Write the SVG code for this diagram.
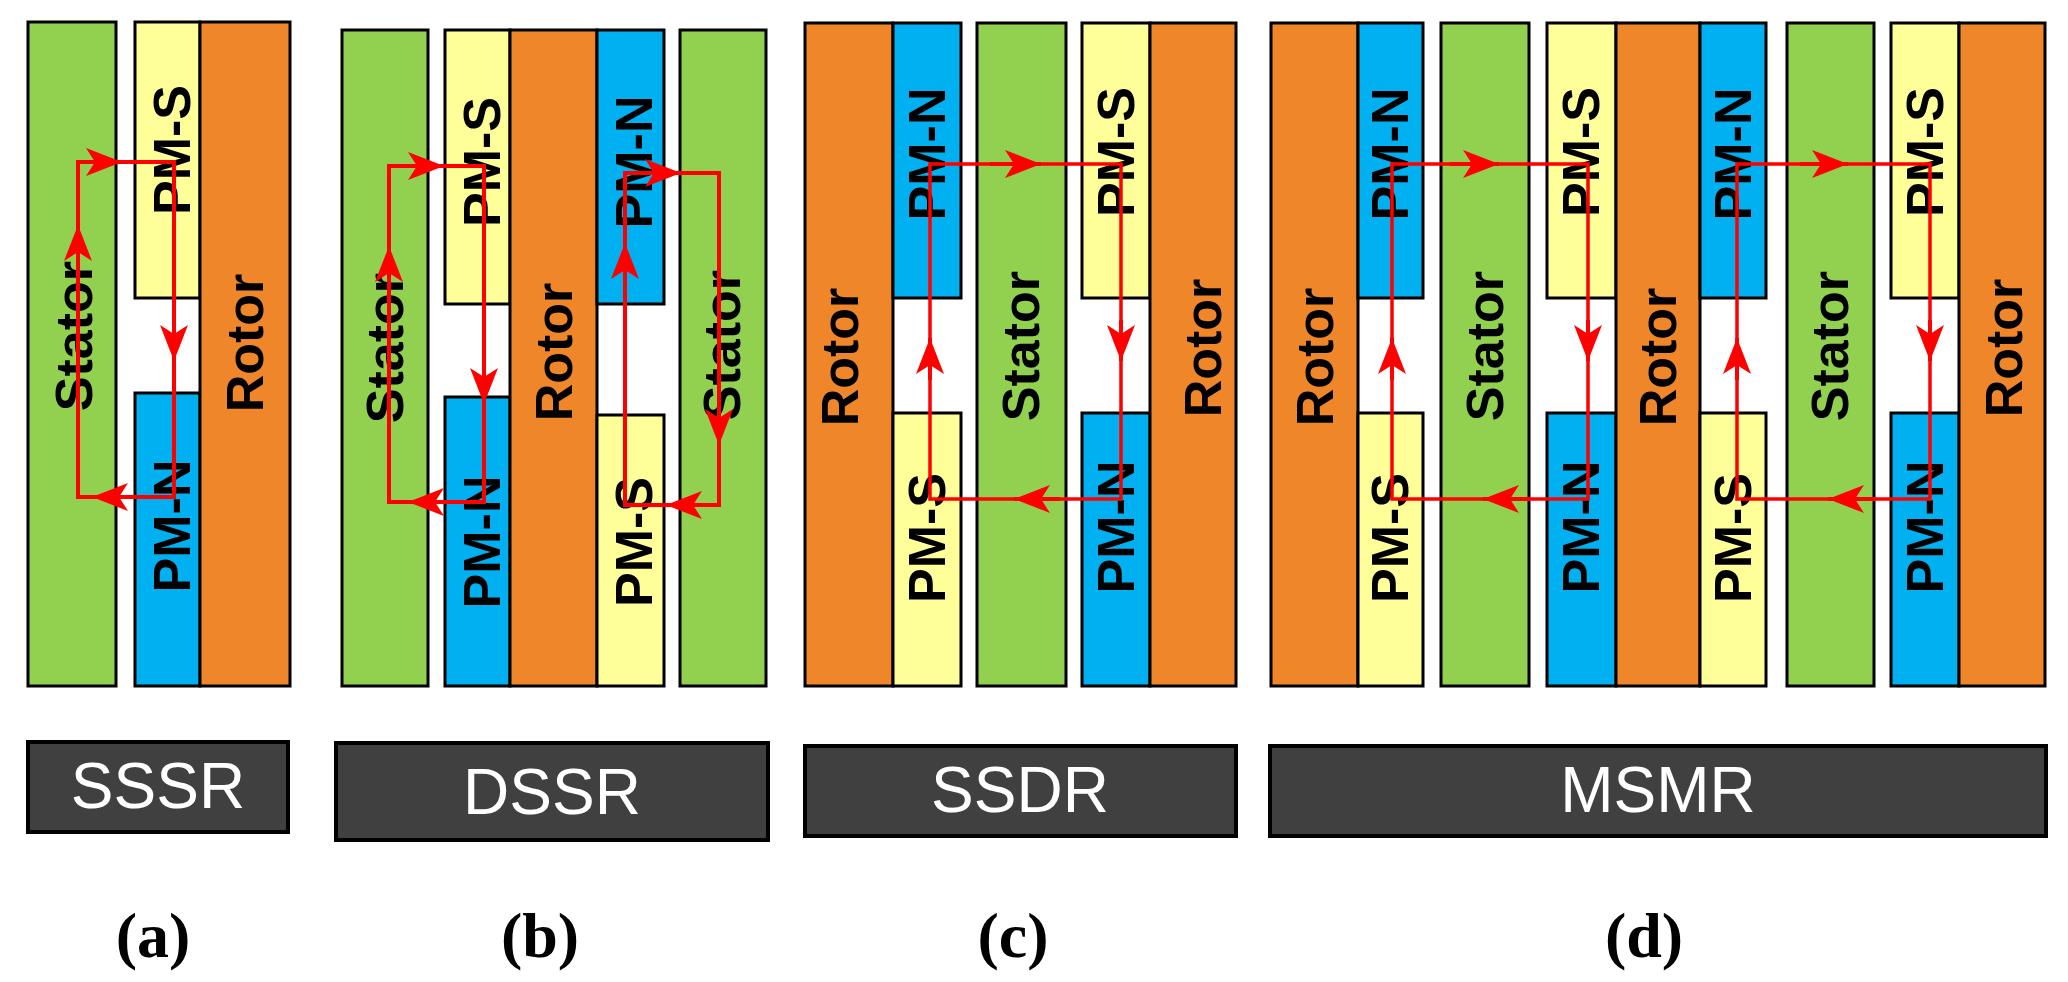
<svg xmlns="http://www.w3.org/2000/svg" width="2068" height="982" viewBox="0 0 2068 982">
<style>
.blk{stroke:#000;stroke-width:3}
.g{fill:#92D050}.y{fill:#FFFF99}.b{fill:#00B0F0}.o{fill:#F0862A}
.bar{fill:#404040;stroke:#000;stroke-width:4}
.t{font-family:"Liberation Sans",Arial,sans-serif;font-weight:bold;font-size:52px;text-anchor:middle;dominant-baseline:central;fill:#000}
.bt{font-family:"Liberation Sans",Arial,sans-serif;font-size:64px;text-anchor:middle;fill:#fff}
.cap{font-family:"Liberation Serif","Times New Roman",serif;font-size:64px;font-weight:bold;text-anchor:middle;fill:#000}
.p{fill:none;stroke:#f00;stroke-width:4}
.p2{fill:none;stroke:#f00;stroke-width:3.5}
.a{stroke:#f00;stroke-width:4;marker-end:url(#ah)}
</style>
<defs>
<marker id="ah" viewBox="0 0 36 28" refX="36" refY="14" markerWidth="36" markerHeight="28" markerUnits="userSpaceOnUse" orient="auto">
<path d="M0,0 L36,14 L0,28 L9,14 z" fill="#f00"/>
</marker>
</defs>
<rect width="2068" height="982" fill="#fff"/>

<g id="panel-a">
<g id="a-stator"><rect class="blk g" x="28" y="22" width="88" height="664"/><text class="t" x="74" y="336" transform="rotate(-90 74 336)">Stator</text></g>
<g id="a-pms"><rect class="blk y" x="135" y="22" width="65" height="276"/><text class="t" x="172" y="150" transform="rotate(-90 172 150)">PM-S</text></g>
<g id="a-pmn"><rect class="blk b" x="135" y="393" width="65" height="293"/><text class="t" x="172" y="526" transform="rotate(-90 172 526)">PM-N</text></g>
<g id="a-rotor"><rect class="blk o" x="200" y="22" width="90" height="664"/><text class="t" x="245" y="343" transform="rotate(-90 245 343)">Rotor</text></g>
</g>

<g id="panel-b">
<g id="b-stator1"><rect class="blk g" x="342" y="30" width="86" height="656"/><text class="t" x="385" y="348" transform="rotate(-90 385 348)">Stator</text></g>
<g id="b-pms"><rect class="blk y" x="445" y="30" width="65" height="274"/><text class="t" x="482" y="162" transform="rotate(-90 482 162)">PM-S</text></g>
<g id="b-pmn"><rect class="blk b" x="445" y="397" width="65" height="289"/><text class="t" x="482" y="542" transform="rotate(-90 482 542)">PM-N</text></g>
<g id="b-rotor"><rect class="blk o" x="510" y="30" width="87" height="656"/><text class="t" x="554" y="352" transform="rotate(-90 554 352)">Rotor</text></g>
<g id="b-pmn2"><rect class="blk b" x="597" y="30" width="67" height="274"/><text class="t" x="634" y="162" transform="rotate(-90 634 162)">PM-N</text></g>
<g id="b-pms2"><rect class="blk y" x="597" y="415" width="67" height="271"/><text class="t" x="634" y="542" transform="rotate(-90 634 542)">PM-S</text></g>
<g id="b-stator2"><rect class="blk g" x="680" y="30" width="86" height="656"/><text class="t" x="722" y="345" transform="rotate(-90 722 345)">Stator</text></g>
</g>

<g id="panel-c">
<g id="c-rotor1"><rect class="blk o" x="805" y="23" width="88" height="663"/><text class="t" x="840" y="357" transform="rotate(-90 840 357)">Rotor</text></g>
<g id="c-pmn"><rect class="blk b" x="893" y="23" width="68" height="275"/><text class="t" x="927" y="154" transform="rotate(-90 927 154)">PM-N</text></g>
<g id="c-pms"><rect class="blk y" x="893" y="413" width="68" height="273"/><text class="t" x="927" y="538" transform="rotate(-90 927 538)">PM-S</text></g>
<g id="c-stator"><rect class="blk g" x="977" y="23" width="89" height="663"/><text class="t" x="1021" y="346" transform="rotate(-90 1021 346)">Stator</text></g>
<g id="c-pms2"><rect class="blk y" x="1082" y="23" width="68" height="275"/><text class="t" x="1116" y="152" transform="rotate(-90 1116 152)">PM-S</text></g>
<g id="c-pmn2"><rect class="blk b" x="1082" y="413" width="68" height="273"/><text class="t" x="1116" y="527" transform="rotate(-90 1116 527)">PM-N</text></g>
<g id="c-rotor2"><rect class="blk o" x="1150" y="23" width="86" height="663"/><text class="t" x="1203" y="348" transform="rotate(-90 1203 348)">Rotor</text></g>
</g>

<g id="panel-d">
<g id="d-rotor1"><rect class="blk o" x="1271" y="23" width="87" height="663"/><text class="t" x="1315" y="357" transform="rotate(-90 1315 357)">Rotor</text></g>
<g id="d-pmn1"><rect class="blk b" x="1358" y="23" width="65" height="275"/><text class="t" x="1390" y="154" transform="rotate(-90 1390 154)">PM-N</text></g>
<g id="d-pms1"><rect class="blk y" x="1358" y="413" width="65" height="273"/><text class="t" x="1390" y="538" transform="rotate(-90 1390 538)">PM-S</text></g>
<g id="d-stator1"><rect class="blk g" x="1441" y="23" width="88" height="663"/><text class="t" x="1485" y="346" transform="rotate(-90 1485 346)">Stator</text></g>
<g id="d-pms2"><rect class="blk y" x="1547" y="23" width="69" height="275"/><text class="t" x="1581" y="152" transform="rotate(-90 1581 152)">PM-S</text></g>
<g id="d-pmn2"><rect class="blk b" x="1547" y="413" width="69" height="273"/><text class="t" x="1581" y="527" transform="rotate(-90 1581 527)">PM-N</text></g>
<g id="d-rotor2"><rect class="blk o" x="1616" y="23" width="84" height="663"/><text class="t" x="1658" y="357" transform="rotate(-90 1658 357)">Rotor</text></g>
<g id="d-pmn3"><rect class="blk b" x="1700" y="23" width="66" height="275"/><text class="t" x="1733" y="154" transform="rotate(-90 1733 154)">PM-N</text></g>
<g id="d-pms3"><rect class="blk y" x="1700" y="413" width="66" height="273"/><text class="t" x="1733" y="538" transform="rotate(-90 1733 538)">PM-S</text></g>
<g id="d-stator2"><rect class="blk g" x="1787" y="23" width="87" height="663"/><text class="t" x="1830" y="346" transform="rotate(-90 1830 346)">Stator</text></g>
<g id="d-pms4"><rect class="blk y" x="1891" y="23" width="68" height="275"/><text class="t" x="1925" y="152" transform="rotate(-90 1925 152)">PM-S</text></g>
<g id="d-pmn4"><rect class="blk b" x="1891" y="413" width="68" height="273"/><text class="t" x="1925" y="527" transform="rotate(-90 1925 527)">PM-N</text></g>
<g id="d-rotor3"><rect class="blk o" x="1959" y="23" width="86" height="663"/><text class="t" x="2004" y="348" transform="rotate(-90 2004 348)">Rotor</text></g>
</g>

<g id="connectors">
<path class="p" d="M78,497 V162 H174 V497 Z"/>
<line class="a" x1="78" y1="270" x2="78" y2="225"/>
<line class="a" x1="86" y1="162" x2="122" y2="162"/>
<line class="a" x1="174" y1="320" x2="174" y2="361"/>
<line class="a" x1="130" y1="497" x2="92" y2="497"/>

<path class="p" d="M389,502 V166 H484 V502 Z"/>
<line class="a" x1="389" y1="290" x2="389" y2="246"/>
<line class="a" x1="400" y1="166" x2="444" y2="166"/>
<line class="a" x1="484" y1="360" x2="484" y2="404"/>
<line class="a" x1="450" y1="502" x2="408" y2="502"/>

<path class="p" d="M625,505 V173 H719 V505 Z"/>
<line class="a" x1="625" y1="290" x2="625" y2="243"/>
<line class="a" x1="640" y1="173" x2="681" y2="173"/>
<line class="a" x1="719" y1="400" x2="719" y2="445"/>
<line class="a" x1="705" y1="505" x2="666" y2="505"/>

<path class="p2" d="M930,499 V164 H1121 V499 Z"/>
<line class="a" x1="990" y1="164" x2="1041" y2="164"/>
<line class="a" x1="1121" y1="320" x2="1121" y2="361"/>
<line class="a" x1="1060" y1="499" x2="1014" y2="499"/>
<line class="a" x1="930" y1="380" x2="930" y2="338"/>

<path class="p2" d="M1392,499 V164 H1588 V499 Z"/>
<line class="a" x1="1450" y1="164" x2="1499" y2="164"/>
<line class="a" x1="1588" y1="320" x2="1588" y2="361"/>
<line class="a" x1="1530" y1="499" x2="1483" y2="499"/>
<line class="a" x1="1392" y1="380" x2="1392" y2="338"/>

<path class="p2" d="M1737,499 V164 H1930 V499 Z"/>
<line class="a" x1="1800" y1="164" x2="1848" y2="164"/>
<line class="a" x1="1930" y1="320" x2="1930" y2="361"/>
<line class="a" x1="1875" y1="499" x2="1828" y2="499"/>
<line class="a" x1="1737" y1="380" x2="1737" y2="338"/>
</g>

<g id="label-sssr"><rect class="bar" x="28" y="742" width="260" height="90"/><text class="bt" x="158" y="808">SSSR</text></g>
<g id="label-dssr"><rect class="bar" x="336" y="743" width="432" height="97"/><text class="bt" x="552" y="814">DSSR</text></g>
<g id="label-ssdr"><rect class="bar" x="805" y="746" width="431" height="90"/><text class="bt" x="1020" y="812">SSDR</text></g>
<g id="label-msmr"><rect class="bar" x="1270" y="746" width="776" height="90"/><text class="bt" x="1658" y="812">MSMR</text></g>

<text class="cap" x="153" y="957">(a)</text>
<text class="cap" x="540" y="957">(b)</text>
<text class="cap" x="1013" y="957">(c)</text>
<text class="cap" x="1644" y="957">(d)</text>
</svg>
